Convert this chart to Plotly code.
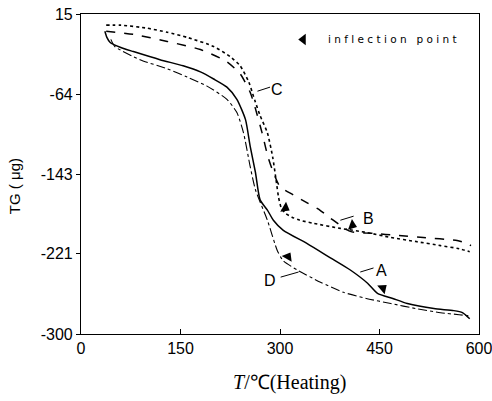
import plotly.graph_objects as go

# ---- data ----
c_T = [38, 60, 100, 130, 160, 200, 225, 240, 253, 262, 270, 281, 289, 294, 298, 302, 308, 318, 330, 350, 391, 430, 467, 505, 542, 570, 586]
c_v = [4, 4, 1, -3, -8, -17, -27, -36, -52, -70, -85, -102, -126, -148, -166, -176, -181, -185, -188, -191, -196, -200, -205, -209, -213, -216, -219]

b_T = [38, 79, 130, 180, 220, 240, 255, 262, 273, 282, 290, 300, 320, 341, 360, 376, 406, 441, 477, 516, 567, 578, 588]
b_v = [-2, -5, -12, -20, -32, -44, -62, -76, -102, -126, -141, -155, -163, -171, -178, -186, -199, -201, -203, -205, -208, -210, -213]

a_T = [36, 39, 44, 60, 79, 119, 154, 180, 200, 220, 235, 248, 255, 263, 270, 281, 290, 305, 341, 376, 406, 432, 447, 470, 492, 532, 562, 575, 586]
a_v = [-2, -8, -13, -18, -22, -30, -36, -42, -49, -57, -69, -89, -115, -141, -168, -178, -188, -198, -211, -225, -237, -250, -260, -265, -270, -275, -277, -279, -285]

d_T = [45, 51, 89, 130, 160, 190, 220, 235, 245, 255, 263, 281, 296, 305, 326, 361, 396, 430, 467, 505, 542, 570, 584]
d_v = [-10, -17, -30, -39, -47, -56, -69, -82, -102, -135, -158, -188, -218, -228, -237, -249, -259, -265, -270, -275, -279, -281, -282]

infl_T = [308, 409, 455, 312]
infl_v = [-176, -193, -255, -224]
infl_angle = [30, 20, -40, -60]

legend_T = [335]
legend_v = [-10]

labels = ["C", "B", "A", "D"]
label_T = [296, 434, 453, 285]
label_v = [-59, -186, -237, -247]
lead_T0 = [266, 391, 421, 301]
lead_v0 = [-61, -188, -239, -244]
lead_T1 = [285, 411, 441, 328]
lead_v1 = [-57, -184, -235, -239]

x_ticks = [0, 150, 300, 450, 600]
y_ticks = [15, -64, -143, -221, -300]
y_ticktext = ["15", "-64", "-143", "-221", "-300"]

# ---- figure ----
fig = go.Figure()
line_kw = dict(mode="lines", line_shape="spline", hoverinfo="skip", showlegend=False)
fig.add_trace(go.Scatter(x=c_T, y=c_v, line=dict(color="black", width=1.6, dash="dot", smoothing=0.6), **line_kw))
fig.add_trace(go.Scatter(x=b_T, y=b_v, line=dict(color="black", width=1.5, dash="dash", smoothing=0.6), **line_kw))
fig.add_trace(go.Scatter(x=a_T, y=a_v, line=dict(color="black", width=1.5, smoothing=0.6), **line_kw))
fig.add_trace(go.Scatter(x=d_T, y=d_v, line=dict(color="black", width=1.1, dash="dashdot", smoothing=0.6), **line_kw))

fig.add_trace(go.Scatter(x=infl_T, y=infl_v, mode="markers", showlegend=False, hoverinfo="skip",
                         marker=dict(symbol="triangle-right", size=10, color="black", angle=infl_angle)))
fig.add_trace(go.Scatter(x=legend_T, y=legend_v, mode="markers", showlegend=False, hoverinfo="skip",
                         marker=dict(symbol="triangle-left", size=10, color="black")))

fig.add_annotation(x=370, y=-10, xref="x", yref="y", text="i n f l e c t i o n   p o i n t", showarrow=False,
                   xanchor="left", yanchor="middle",
                   font=dict(family="DejaVu Sans, sans-serif", size=10.5, color="black"))

for i, lab in enumerate(labels):
    fig.add_shape(type="line", xref="x", yref="y", x0=lead_T0[i], y0=lead_v0[i], x1=lead_T1[i], y1=lead_v1[i],
                  line=dict(color="black", width=1))
    fig.add_annotation(x=label_T[i], y=label_v[i], xref="x", yref="y", text=lab, showarrow=False,
                       xanchor="center", yanchor="middle",
                       font=dict(family="Liberation Sans Narrow, Liberation Sans, Arial Narrow, sans-serif", size=16, color="black"))

fig.add_annotation(x=0.525, y=-0.15, xref="paper", yref="paper", text="<i>T</i>/℃(Heating)", showarrow=False,
                   xanchor="center", yanchor="middle",
                   font=dict(family="Liberation Serif, Times New Roman, serif", size=20, color="black"))
fig.add_annotation(x=-0.168, y=0.4625, xref="paper", yref="paper", text="TG ( μg)", showarrow=False,
                   textangle=-90, xanchor="center", yanchor="middle",
                   font=dict(family="Liberation Sans Narrow, Liberation Sans, Arial Narrow, sans-serif", size=15, color="black"))

tickfont = dict(family="Liberation Sans Narrow, Liberation Sans, Arial Narrow, sans-serif", size=16, color="black")
fig.update_xaxes(range=[0, 600], tickvals=x_ticks, ticks="inside", ticklen=5, tickcolor="black",
                 showline=True, linecolor="black", linewidth=1.2, mirror=True, showgrid=False, zeroline=False,
                 tickfont=tickfont, automargin=False, ticklabeloverflow="allow")
fig.update_yaxes(range=[-300, 15], tickvals=y_ticks, ticktext=y_ticktext, ticks="outside", ticklen=4,
                 tickcolor="black", showline=True, linecolor="black", linewidth=1.2, mirror=True,
                 showgrid=False, zeroline=False, tickfont=tickfont, automargin=False, ticklabeloverflow="allow")

fig.update_layout(width=492, height=401, margin=dict(l=81, r=13, t=14, b=67, autoexpand=False),
                  plot_bgcolor="white", paper_bgcolor="white")

# remove the browser's default 8px body margin so the figure fills the window
fig.write_html("out.html", config={"displayModeBar": False},
               post_script="document.body.style.margin='0px';")
